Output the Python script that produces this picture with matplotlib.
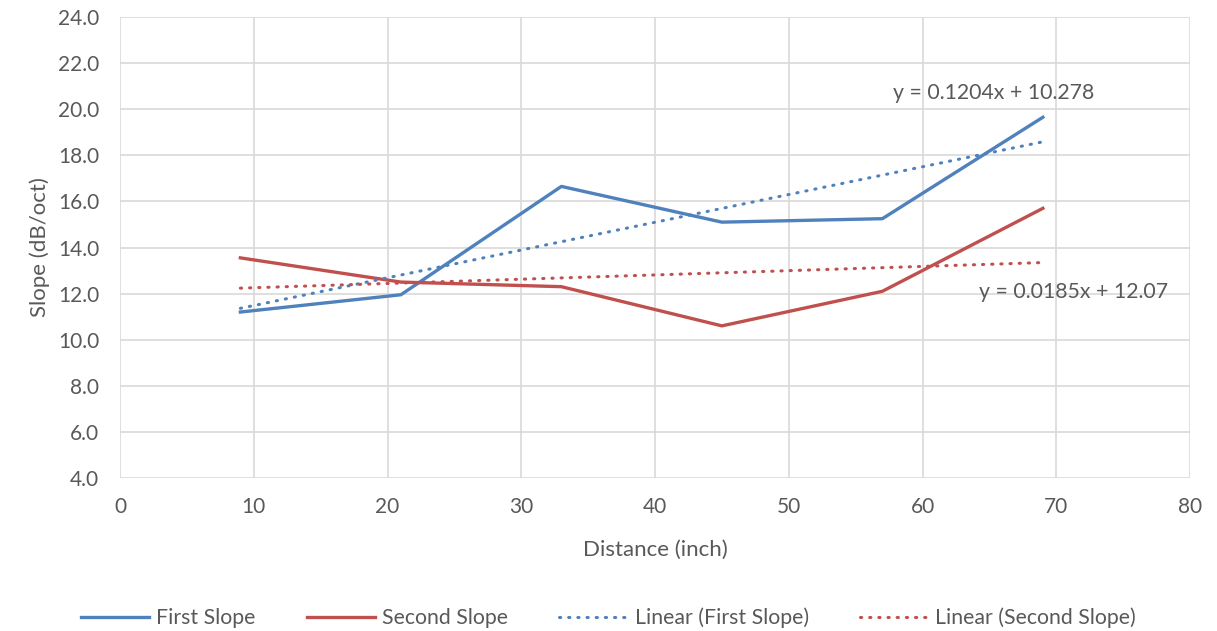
import matplotlib
matplotlib.use("Agg")
import matplotlib.pyplot as plt
import numpy as np

plt.rcParams['font.family'] = ['Lato', 'DejaVu Sans']

distance = [9, 21, 33, 45, 57, 69]
first_slope = [11.2, 11.95, 16.65, 15.1, 15.25, 19.65]
second_slope = [13.55, 12.5, 12.3, 10.6, 12.1, 15.7]
fit_first = (0.1204, 10.278)
fit_second = (0.0185, 12.07)
eq_first = "y = 0.1204x + 10.278"
eq_second = "y = 0.0185x + 12.07"

blue = "#4F81BD"
red = "#C0504D"
tc = "#595959"

fig = plt.figure(figsize=(12.17, 6.31), dpi=100)
ax = fig.add_axes([120/1217, 1-478/631, 1070/1217, 461/631])

x = np.array(distance, dtype=float)
xr = np.array([x.min(), x.max()])
ax.plot(x, first_slope, color=blue, lw=2.4, label="First Slope", zorder=3)
ax.plot(x, second_slope, color=red, lw=2.4, label="Second Slope", zorder=3)
ax.plot(xr, fit_first[0]*xr + fit_first[1], color=blue, lw=2.2, ls=(0, (0.4, 2.6)),
        dash_capstyle='round', label="Linear (First Slope)", zorder=3)
ax.plot(xr, fit_second[0]*xr + fit_second[1], color=red, lw=2.2, ls=(0, (0.4, 2.6)),
        dash_capstyle='round', label="Linear (Second Slope)", zorder=3)

ax.set_xlim(0, 80)
ax.set_ylim(4, 24)
ax.set_xticks(range(0, 81, 10))
ax.set_yticks(np.arange(4, 24.1, 2))
ax.set_yticklabels([f"{v:.1f}" for v in np.arange(4, 24.1, 2)])
ax.grid(True, color="#D9D9D9", lw=1.2)
ax.set_axisbelow(True)
for s in ax.spines.values():
    s.set_visible(False)
ax.tick_params(axis='y', length=0, labelsize=15, colors=tc, pad=15)
ax.tick_params(axis='x', length=0, labelsize=15, colors=tc, pad=14)
ax.set_xlabel("Distance (inch)", fontsize=16, color=tc, labelpad=16)
ax.set_ylabel("Slope (dB/oct)", fontsize=16, color=tc, labelpad=6)

ax.text(65.3, 20.7, eq_first, fontsize=15.3, color=tc, ha='center', va='center')
ax.text(71.3, 12.07, eq_second, fontsize=15.3, color=tc, ha='center', va='center')

leg = fig.legend(loc='center', bbox_to_anchor=(0.5, 1-618/631), ncol=4, frameon=False,
                 fontsize=15.3, handlelength=3.2, columnspacing=2.4, handletextpad=0.35)
for t in leg.get_texts():
    t.set_color(tc)

fig.savefig("out.png", dpi=100)
